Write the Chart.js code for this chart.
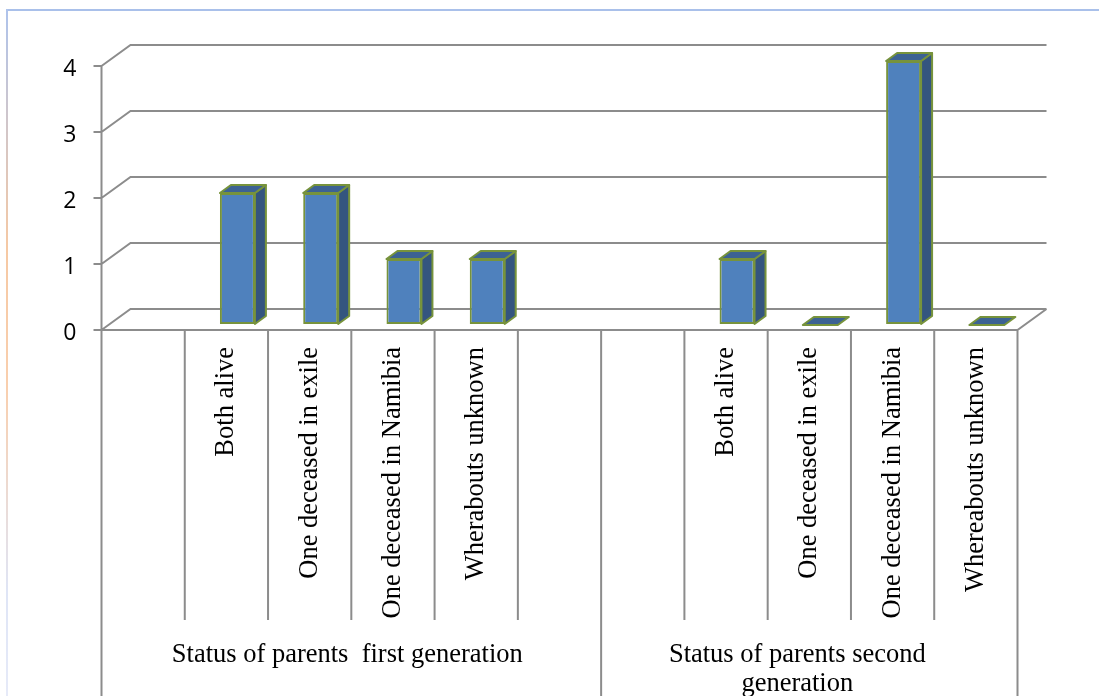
<!DOCTYPE html>
<html>
<head>
<meta charset="utf-8">
<script src="https://cdn.jsdelivr.net/npm/chart.js@4.4.0/dist/chart.umd.min.js"></script>
<style>
  html, body { margin: 0; padding: 0; background: #fff; }
  #wrap { position: relative; width: 1099px; height: 696px; overflow: hidden; }
  #frameTop { position: absolute; left: 6px; top: 9px; width: 1093px; height: 2px; background: #a9c0ea; }
  #frameLeft { position: absolute; left: 6px; top: 9px; width: 2px; height: 687px;
    background: linear-gradient(#aec3ec, #f6c9a4 35%, #f9cfae 55%, #dfe5f6 85%, #e6eaf8); }
  canvas { position: absolute; left: 0; top: 0; }
</style>
</head>
<body>
<div id="wrap">
  <div id="frameTop"></div>
  <div id="frameLeft"></div>
  <canvas id="c" width="1099" height="696"></canvas>
</div>
<script>
// Category axis: two groups, each padded with empty slots
const categories = ['', 'Both alive', 'One deceased in exile', 'One deceased in Namibia', 'Wherabouts unknown', '',
                    '', 'Both alive', 'One deceased in exile', 'One deceased in Namibia', 'Whereabouts unknown'];
const counts = [null, 2, 2, 1, 1, null, null, 1, 0, 4, 0];
const groupNames = [['Status of parents  first generation'], ['Status of parents second', 'generation']];
const groupSizes = [6, 5];
const yTicks = [0, 1, 2, 3, 4];

// Pseudo-3D geometry (pixels)
const WALL_DEPTH = { x: 29, y: -21 };
const BAR_SHIFT = { x: 11, y: -5 };
const BAR_DEPTH = { x: 11, y: -8 };
const SHORT_TICK_END = 620;
const GROUP_NUDGE = [-4, -12];
const SERIF = '"Liberation Serif", "Times New Roman", serif';
const SANS = '"Open Sans", Lato, sans-serif';

const GRID = '#8c8c8c';
const FRONT = '#4f81bd';
const SIDE = '#34557f';
const TOP = '#3c6293';
const EDGE = '#77933c';

const scene3d = {
  id: 'scene3d',
  beforeDatasetsDraw(chart) {
    const { ctx, chartArea: a, scales: { x, y } } = chart;
    ctx.save();
    ctx.strokeStyle = GRID;
    ctx.lineWidth = 2;
    ctx.beginPath();
    // back wall gridlines with their diagonal connectors
    for (const v of yTicks) {
      const py = y.getPixelForValue(v);
      ctx.moveTo(a.left, py);
      ctx.lineTo(a.left + WALL_DEPTH.x, py + WALL_DEPTH.y);
      ctx.lineTo(a.right + WALL_DEPTH.x, py + WALL_DEPTH.y);
    }
    // floor front and right edges
    const y0 = y.getPixelForValue(0);
    ctx.moveTo(a.left, y0);
    ctx.lineTo(a.right, y0);
    ctx.lineTo(a.right + WALL_DEPTH.x, y0 + WALL_DEPTH.y);
    // value axis line, continuing down as the outer category border
    ctx.moveTo(a.left, y.getPixelForValue(yTicks[yTicks.length - 1]));
    ctx.lineTo(a.left, chart.height);
    // category separators (group borders run to the bottom)
    const catW = (a.right - a.left) / categories.length;
    const groupEdges = new Set();
    let acc = 0;
    for (const n of groupSizes) { acc += n; groupEdges.add(acc); }
    for (let i = 1; i <= categories.length; i++) {
      const px = x.getPixelForValue(i - 1) + catW / 2;
      ctx.moveTo(px, y0);
      ctx.lineTo(px, groupEdges.has(i) ? chart.height : SHORT_TICK_END);
    }
    ctx.stroke();
    ctx.restore();
    // front faces of the bars sit slightly inside the floor
    ctx.save();
    ctx.translate(BAR_SHIFT.x, BAR_SHIFT.y);
  },
  afterDatasetsDraw(chart) {
    const { ctx } = chart;
    ctx.restore();
    const meta = chart.getDatasetMeta(0);
    ctx.save();
    ctx.lineWidth = 2;
    ctx.lineJoin = 'round';
    ctx.strokeStyle = EDGE;
    meta.data.forEach((bar, i) => {
      if (counts[i] === null) return;
      const p = bar.getProps(['x', 'y', 'base', 'width'], true);
      const l = p.x - p.width / 2 + BAR_SHIFT.x;
      const r = p.x + p.width / 2 + BAR_SHIFT.x;
      const t = Math.min(p.y, p.base) + BAR_SHIFT.y;
      const b = Math.max(p.y, p.base) + BAR_SHIFT.y;
      // side face
      if (b - t > 0.5) {
        ctx.beginPath();
        ctx.moveTo(r, t);
        ctx.lineTo(r + BAR_DEPTH.x, t + BAR_DEPTH.y);
        ctx.lineTo(r + BAR_DEPTH.x, b + BAR_DEPTH.y);
        ctx.lineTo(r, b);
        ctx.closePath();
        ctx.fillStyle = SIDE;
        ctx.fill();
        ctx.stroke();
      }
      // top face
      ctx.beginPath();
      ctx.moveTo(l, t);
      ctx.lineTo(l + BAR_DEPTH.x, t + BAR_DEPTH.y);
      ctx.lineTo(r + BAR_DEPTH.x, t + BAR_DEPTH.y);
      ctx.lineTo(r, t);
      ctx.closePath();
      ctx.fillStyle = TOP;
      ctx.fill();
      ctx.stroke();
    });
    ctx.restore();
  },
  afterDraw(chart) {
    const { ctx, chartArea: a, scales: { y } } = chart;
    const catW = (a.right - a.left) / categories.length;
    ctx.save();
    ctx.fillStyle = '#000';
    // value labels
    ctx.font = '23px ' + SANS;
    ctx.textAlign = 'right';
    ctx.textBaseline = 'middle';
    for (const v of yTicks) ctx.fillText(String(v), a.left - 25, y.getPixelForValue(v) + 3);
    // group labels under the category labels
    ctx.font = '26.5px ' + SERIF;
    ctx.textAlign = 'center';
    ctx.textBaseline = 'alphabetic';
    let start = 0;
    groupNames.forEach((lines, g) => {
      const left = a.left + start * catW;
      const right = left + groupSizes[g] * catW;
      const cx = (left + right) / 2 + GROUP_NUDGE[g];
      lines.forEach((line, k) => ctx.fillText(line, cx, 662 + k * 29));
      start += groupSizes[g];
    });
    ctx.restore();
  }
};

new Chart(document.getElementById('c'), {
  type: 'bar',
  data: {
    labels: categories,
    datasets: [{
      data: counts,
      backgroundColor: FRONT,
      borderColor: EDGE,
      borderWidth: 2,
      borderSkipped: false,
      barPercentage: 0.42,
      categoryPercentage: 1
    }]
  },
  options: {
    responsive: false,
    animation: false,
    devicePixelRatio: 1,
    layout: { padding: { top: 66, right: 81.5, left: 0, bottom: 0 } },
    plugins: { legend: { display: false }, tooltip: { enabled: false } },
    scales: {
      x: {
        grid: { display: false, drawTicks: false },
        border: { display: false },
        ticks: {
          autoSkip: false, minRotation: 90, maxRotation: 90, padding: 17,
          color: '#000', font: { family: SERIF, size: 26.5 }
        },
        afterFit(s) { s.height = 366; }
      },
      y: {
        min: 0, max: 4,
        grid: { drawOnChartArea: false, drawTicks: true, tickLength: 8, color: GRID, lineWidth: 2 },
        border: { display: false },
        ticks: { display: false },
        afterBuildTicks(s) { s.ticks = yTicks.map(v => ({ value: v })); },
        afterFit(s) { s.width = 101.5; }
      }
    }
  },
  plugins: [scene3d]
});
</script>
</body>
</html>
